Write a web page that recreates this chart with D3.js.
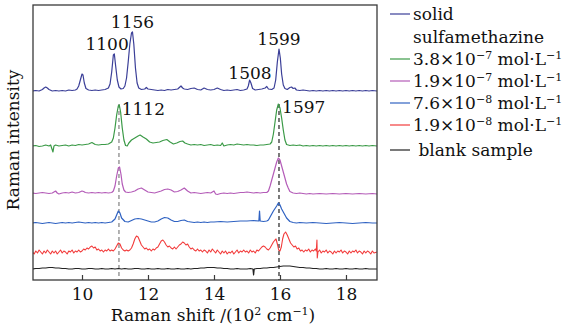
<!DOCTYPE html>
<html><head><meta charset="utf-8">
<script src="https://cdn.jsdelivr.net/npm/d3@7"></script>
<style>
html,body{margin:0;padding:0;background:#fff;}
svg text{font-family:"DejaVu Serif",serif;fill:#111;}
</style></head>
<body><svg id="chart" width="574" height="328"></svg>
<script>
// ---------- data (Raman shift in 10^2 cm^-1, stacked intensity a.u.) ----------
const xTicks = [10, 12, 14, 16, 18];
const seriesNames = ["solid", "c38e7", "c19e7", "c76e8", "c19e8", "blank"];
const seriesColors = ["#3b3f98", "#3b9a47", "#b45cb8", "#2f62c2", "#f23b3b", "#222222"];

const solid = [[8.5,189],[8.6,189.5],[8.7,189],[8.8,190.5],[8.85,192],[8.9,193],[8.95,192],[9.0,190.5],[9.1,189],[9.2,189.5],[9.3,189],[9.4,189.5],[9.5,189],[9.6,190],[9.7,189.5],[9.8,190],[9.85,191],[9.9,194],[9.95,200],[10.0,206],[10.03,205],[10.07,197],[10.12,191.5],[10.2,190],[10.3,189.5],[10.4,190],[10.5,189.5],[10.6,190],[10.7,190.5],[10.8,192],[10.85,196],[10.9,208],[10.95,225],[10.98,226],[11.02,214],[11.07,200],[11.12,193],[11.18,191],[11.25,191.5],[11.3,194],[11.35,202],[11.4,218],[11.45,236],[11.5,247],[11.53,248],[11.57,236],[11.62,212],[11.67,197],[11.72,192],[11.8,190.5],[11.9,191],[11.95,192.5],[12.0,191],[12.1,190.5],[12.2,190],[12.3,189.5],[12.4,190],[12.5,189.5],[12.6,190.5],[12.7,190],[12.8,190.5],[12.9,191],[13.0,194],[13.05,192],[13.1,191],[13.2,190.5],[13.3,191.5],[13.4,192],[13.5,190.5],[13.6,190],[13.7,192],[13.8,190.5],[13.9,190],[14.0,190.5],[14.1,192],[14.2,190.5],[14.3,189.5],[14.4,190],[14.5,189.5],[14.6,190],[14.7,190.5],[14.8,189.5],[14.9,190],[15.0,191],[15.04,194],[15.08,200],[15.12,197],[15.17,191.5],[15.25,190],[15.35,190.5],[15.45,191],[15.55,192],[15.6,193.5],[15.65,191],[15.75,190.5],[15.82,192],[15.87,200],[15.92,218],[15.97,231],[16.01,222],[16.05,206],[16.1,195],[16.15,191.5],[16.22,190.5],[16.3,192.5],[16.35,193],[16.4,191.5],[16.45,192],[16.5,190],[16.6,189.5],[16.7,190],[16.8,189.5],[16.9,189],[17.0,189.5],[17.1,189],[17.2,189.5],[17.3,189],[17.4,189.5],[17.5,189],[17.6,189.5],[17.7,189],[17.8,189.5],[17.9,189],[18.0,189.5],[18.1,189],[18.2,189.5],[18.3,189],[18.4,189.5],[18.5,189],[18.6,189.5],[18.7,189],[18.8,189.5],[18.94,189]];

const conc38e7 = [[8.5,134],[8.6,134.5],[8.7,133.5],[8.8,134],[8.9,135],[9.0,134],[9.05,135],[9.1,130],[9.12,128],[9.15,134],[9.2,135],[9.3,134],[9.4,134.5],[9.5,135],[9.6,134],[9.7,135],[9.8,134.5],[9.9,135.5],[10.0,135],[10.1,135.5],[10.2,136],[10.3,137.5],[10.4,135.5],[10.5,135],[10.6,135.5],[10.7,135.5],[10.8,136],[10.9,138],[10.95,142],[11.0,152],[11.05,165],[11.1,174],[11.13,175],[11.17,168],[11.22,152],[11.27,140],[11.32,134.5],[11.37,134],[11.42,137],[11.5,140],[11.6,142],[11.7,144],[11.76,145],[11.85,143],[11.95,141],[12.05,138],[12.15,137],[12.25,137.5],[12.35,138],[12.45,139.5],[12.57,140.5],[12.67,138],[12.77,136],[12.87,137],[12.97,138.5],[13.05,139],[13.12,137],[13.2,136],[13.3,135],[13.4,135.5],[13.5,135],[13.6,135.5],[13.7,134.5],[13.8,135],[13.9,135.5],[14.0,134.5],[14.1,135],[14.2,134.5],[14.25,137],[14.3,134],[14.4,135],[14.5,135.5],[14.6,135],[14.7,136],[14.8,135.5],[14.9,135],[15.0,135.5],[15.1,135],[15.2,135],[15.3,134.5],[15.4,135],[15.5,135],[15.6,135.5],[15.7,136],[15.75,138],[15.8,146],[15.85,158],[15.9,170],[15.95,176],[16.0,172],[16.05,162],[16.1,150],[16.15,140],[16.2,135.5],[16.3,134.5],[16.4,135],[16.5,134.5],[16.6,135],[16.7,134],[16.8,134.5],[16.9,134],[17.0,134.5],[17.1,134],[17.2,134.5],[17.3,134],[17.4,134.5],[17.5,134],[17.6,134.5],[17.7,134],[17.8,134.5],[17.9,134],[18.0,134.5],[18.1,134],[18.2,134.5],[18.3,134],[18.4,134.5],[18.5,134],[18.6,134.5],[18.7,134],[18.8,134.5],[18.94,134]];

const conc19e7 = [[8.5,87],[8.6,86.5],[8.7,87],[8.8,87.5],[8.9,87],[9.0,86.5],[9.1,87],[9.2,89],[9.25,87],[9.3,86],[9.4,87],[9.5,87.5],[9.6,87],[9.7,88],[9.8,87],[9.9,87.5],[10.0,89],[10.05,88.5],[10.1,87.5],[10.2,87],[10.3,87.5],[10.4,87],[10.5,87.5],[10.6,87],[10.7,87.5],[10.8,87],[10.9,87.5],[10.95,89],[11.0,94],[11.05,104],[11.1,112],[11.14,113],[11.18,106],[11.22,96],[11.27,90],[11.32,88],[11.4,87.5],[11.5,88],[11.6,89],[11.7,91],[11.8,92],[11.9,90],[12.0,88],[12.1,87.5],[12.2,87],[12.3,88],[12.4,89],[12.5,90.5],[12.6,91],[12.7,90],[12.8,88],[12.9,88.5],[13.0,90],[13.1,92],[13.2,89],[13.3,87],[13.4,87.5],[13.5,87],[13.6,86.5],[13.7,87],[13.8,87.5],[13.9,87],[14.0,89],[14.05,86],[14.1,85.5],[14.2,86.5],[14.3,87],[14.4,86.5],[14.5,87],[14.6,86.5],[14.7,87],[14.8,87.5],[14.9,87.5],[15.0,88],[15.1,87.5],[15.2,87],[15.3,87.5],[15.4,87],[15.5,87.5],[15.6,87.5],[15.65,89],[15.7,94],[15.75,100],[15.8,106],[15.85,112],[15.9,118],[15.95,122],[16.0,120],[16.05,114],[16.1,108],[16.15,102],[16.2,96],[16.25,92],[16.3,88.5],[16.4,87],[16.5,86.5],[16.6,87],[16.7,86.5],[16.8,86],[16.9,86.5],[17.0,86],[17.2,86.5],[17.4,86],[17.6,86.5],[17.8,86],[18.0,86.5],[18.2,86],[18.4,86.5],[18.6,86],[18.8,86.5],[18.94,86]];

const conc76e8 = [[8.5,57],[8.6,57.5],[8.7,57],[8.8,56.5],[8.9,57],[9.0,57.5],[9.1,57],[9.2,56.5],[9.3,57],[9.4,57.5],[9.5,57],[9.6,57.5],[9.7,57],[9.8,57.5],[9.9,58],[10.0,57.5],[10.1,57],[10.2,57.5],[10.3,57],[10.4,57.5],[10.5,57],[10.6,57.5],[10.7,57],[10.8,57.5],[10.9,58],[11.0,61],[11.05,65],[11.1,69],[11.15,67],[11.2,62],[11.3,58.5],[11.4,58],[11.5,59.5],[11.6,61],[11.7,61.5],[11.8,61],[11.9,60],[12.0,59],[12.1,58],[12.2,58],[12.3,59],[12.4,61],[12.5,62.5],[12.6,62],[12.7,60],[12.8,58.5],[12.9,58.5],[13.0,59.5],[13.1,60],[13.2,58.5],[13.3,58],[13.4,57.5],[13.5,58],[13.6,57.5],[13.7,58],[13.8,57.5],[13.9,58],[14.0,58],[14.2,58.5],[14.4,58],[14.6,58.5],[14.8,59],[15.0,59],[15.2,59.5],[15.36,59],[15.38,69],[15.40,59],[15.5,58.5],[15.6,59],[15.65,60],[15.7,63],[15.8,69],[15.9,74],[15.95,77],[16.0,75],[16.05,71],[16.1,68],[16.15,65],[16.2,62],[16.3,58.5],[16.4,57.5],[16.5,57],[16.6,57.5],[16.8,57],[17.0,57.5],[17.2,57],[17.4,56.5],[17.6,57],[17.8,57.5],[18.0,57],[18.2,56.5],[18.4,57],[18.6,57.5],[18.8,57],[18.94,57]];

const conc19e8 = [[8.50,28],[8.55,26],[8.60,29],[8.65,27],[8.70,30],[8.75,28],[8.80,26],[8.85,29],[8.90,27],[8.95,30],[9.00,28],[9.05,26],[9.10,29],[9.15,27],[9.20,29],[9.25,26],[9.30,28],[9.35,30],[9.40,27],[9.45,29],[9.50,28],[9.55,26],[9.60,29],[9.65,28],[9.70,30],[9.75,27],[9.80,29],[9.85,28],[9.90,30],[9.95,28],[10.00,29],[10.05,31],[10.10,30],[10.15,32],[10.20,31],[10.25,33],[10.30,34],[10.35,32],[10.40,33],[10.45,30],[10.50,31],[10.55,29],[10.60,30],[10.65,28],[10.70,30],[10.75,29],[10.80,31],[10.85,29],[10.90,30],[10.95,29],[11.00,31],[11.05,34],[11.10,37],[11.15,36],[11.20,32],[11.25,30],[11.30,29],[11.35,30],[11.40,29],[11.45,30],[11.50,32],[11.55,36],[11.60,41],[11.65,44],[11.70,43],[11.75,39],[11.80,35],[11.85,33],[11.90,31],[11.95,32],[12.00,30],[12.05,31],[12.10,29],[12.15,31],[12.20,30],[12.25,32],[12.30,33],[12.35,36],[12.40,39],[12.45,40],[12.50,38],[12.55,35],[12.60,33],[12.65,34],[12.70,32],[12.75,31],[12.80,33],[12.85,31],[12.90,33],[12.95,35],[13.00,36],[13.05,38],[13.10,37],[13.15,35],[13.20,36],[13.25,33],[13.30,31],[13.35,32],[13.40,30],[13.45,29],[13.50,31],[13.55,29],[13.60,30],[13.65,28],[13.70,30],[13.75,29],[13.80,27],[13.85,30],[13.90,28],[13.95,31],[14.00,29],[14.05,27],[14.10,30],[14.15,28],[14.20,26],[14.25,29],[14.30,27],[14.35,29],[14.40,26],[14.45,28],[14.50,27],[14.55,29],[14.60,26],[14.65,28],[14.70,30],[14.75,27],[14.80,29],[14.85,28],[14.90,30],[14.95,28],[15.00,29],[15.05,27],[15.10,30],[15.15,28],[15.20,29],[15.25,27],[15.30,30],[15.35,29],[15.40,31],[15.45,33],[15.50,34],[15.55,33],[15.60,31],[15.65,30],[15.70,32],[15.75,35],[15.80,38],[15.85,40],[15.88,41],[15.92,36],[15.96,30],[16.00,29],[16.04,33],[16.08,41],[16.12,46],[16.17,48],[16.22,45],[16.27,41],[16.32,37],[16.37,35],[16.42,33],[16.47,34],[16.52,31],[16.57,32],[16.62,29],[16.67,30],[16.72,28],[16.77,30],[16.82,29],[16.87,31],[16.92,28],[16.97,30],[17.02,29],[17.07,31],[17.10,29],[17.12,40],[17.13,22],[17.15,28],[17.20,30],[17.25,27],[17.30,29],[17.35,28],[17.40,30],[17.45,27],[17.50,29],[17.55,28],[17.60,26],[17.65,29],[17.70,27],[17.75,29],[17.80,28],[17.85,30],[17.90,27],[17.95,29],[18.00,28],[18.05,26],[18.10,29],[18.15,27],[18.20,29],[18.25,28],[18.30,30],[18.35,27],[18.40,29],[18.45,28],[18.50,26],[18.55,29],[18.60,27],[18.65,29],[18.70,28],[18.75,26],[18.80,29],[18.85,27],[18.94,28]];

const blank = [[8.5,11],[8.6,11.5],[8.7,11.5],[8.8,12],[8.9,12],[9.0,12.5],[9.1,12.5],[9.2,12],[9.3,12],[9.4,11.5],[9.5,11.5],[9.6,11],[9.7,11],[9.8,11.5],[9.9,11.5],[10.0,11],[10.1,11],[10.2,11.5],[10.3,11.5],[10.4,11],[10.5,11],[10.6,11.5],[10.7,11],[10.8,11],[10.9,11.5],[11.0,11],[11.1,11.5],[11.2,11],[11.3,11.5],[11.4,11],[11.5,11],[11.6,11.5],[11.7,11.5],[11.8,11],[11.9,11],[12.0,11.5],[12.1,11],[12.2,11],[12.3,11.5],[12.4,11],[12.5,11],[12.6,11.5],[12.7,11],[12.8,11],[12.9,11.5],[13.0,11],[13.1,11],[13.2,11.5],[13.3,11],[13.4,11.5],[13.5,11.5],[13.6,12],[13.7,12],[13.8,12.5],[13.9,12.5],[14.0,12.5],[14.1,12],[14.2,12],[14.3,11.5],[14.4,11.5],[14.5,11],[14.6,11],[14.7,11.5],[14.8,11],[14.9,11],[15.0,11],[15.1,11.5],[15.18,11],[15.2,5],[15.22,11],[15.3,11.5],[15.4,11.5],[15.5,12],[15.6,12],[15.7,12.5],[15.8,12.5],[15.9,13],[16.0,13.5],[16.1,14],[16.2,14],[16.3,14],[16.4,13.5],[16.5,13],[16.6,12.5],[16.7,12.5],[16.8,12],[16.9,12],[17.0,11.5],[17.1,11.5],[17.2,11],[17.3,11],[17.4,11.5],[17.5,11],[17.6,11],[17.7,11.5],[17.8,11],[17.9,11],[18.0,11.5],[18.1,11],[18.2,11],[18.3,11.5],[18.4,11],[18.5,11],[18.6,11.5],[18.7,11],[18.8,11],[18.94,11]];

const seriesData = [solid, conc38e7, conc19e7, conc76e8, conc19e8, blank];
const legendLabels = ["solid|sulfamethazine", "3.8×10^−7 mol·L^−1", "1.9×10^−7 mol·L^−1", "7.6×10^−8 mol·L^−1", "1.9×10^−8 mol·L^−1", " blank sample"];

const peakLabels = ["1100", "1156", "1508", "1599", "1112", "1597"];
const peakShifts = [10.76, 11.53, 15.09, 15.97, 11.86, 16.72];
const peakHeights = [226, 248, 197, 231, 161, 163];
const markerShifts = [11.12, 15.97];
const markerTops = [176, 176];
const markerColors = ["#8a8a8a", "#333333"];

// ---------- layout ----------
const m = {left: 33, top: 5, right: 377, bottom: 280};
const svg = d3.select("#chart");
const x = d3.scaleLinear().domain([8.515, 18.94]).range([m.left, m.right]);
const y = d3.scaleLinear().domain([0, 275]).range([m.bottom, m.top]);

svg.append("defs").append("clipPath").attr("id", "clip")
  .append("rect").attr("x", m.left).attr("y", m.top)
  .attr("width", m.right - m.left).attr("height", m.bottom - m.top);

const plot = svg.append("g").attr("clip-path", "url(#clip)");

// dashed marker lines
plot.selectAll("line.marker").data(markerShifts).enter().append("line")
  .attr("class", "marker")
  .attr("x1", d => x(d)).attr("x2", d => x(d))
  .attr("y1", (d, i) => y(markerTops[i])).attr("y2", y(0))
  .attr("stroke", (d, i) => markerColors[i]).attr("stroke-width", 1.3)
  .attr("stroke-dasharray", "4,3");

const line = d3.line().x(d => x(d[0])).y(d => y(d[1]));
plot.selectAll("path.spec").data(seriesData).enter().append("path")
  .attr("class", "spec")
  .attr("d", line)
  .attr("fill", "none")
  .attr("stroke", (d, i) => seriesColors[i])
  .attr("stroke-width", (d, i) => i === 4 ? 1.1 : 1.2)
  .attr("stroke-linejoin", "round");

// frame
svg.append("rect").attr("x", m.left).attr("y", m.top)
  .attr("width", m.right - m.left).attr("height", m.bottom - m.top)
  .attr("fill", "none").attr("stroke", "#3a3a3a").attr("stroke-width", 1.3);

// bottom axis
const ax = svg.append("g").attr("transform", `translate(0,${m.bottom})`)
  .call(d3.axisBottom(x).tickValues(xTicks).tickFormat(d3.format("d")).tickSize(-5).tickPadding(8));
ax.select(".domain").remove();
ax.selectAll(".tick line").attr("stroke", "#3a3a3a").attr("stroke-width", 1.2);
ax.selectAll(".tick text").attr("font-size", 17).attr("font-family", "DejaVu Serif").attr("fill", "#111");

// axis titles
const xt = svg.append("text").attr("x", 213).attr("y", 321).attr("text-anchor", "middle").attr("font-size", 17);
xt.append("tspan").text("Raman shift /(10");
xt.append("tspan").attr("font-size", 11).attr("dy", -6).text("2");
xt.append("tspan").attr("dy", 6).text(" cm");
xt.append("tspan").attr("font-size", 11).attr("dy", -6).text("−1");
xt.append("tspan").attr("dy", 6).text(")");

svg.append("text").attr("transform", "translate(19,140) rotate(-90)")
  .attr("text-anchor", "middle").attr("font-size", 17).text("Raman intensity");

// peak labels
svg.selectAll("text.peak").data(peakLabels).enter().append("text")
  .attr("class", "peak")
  .attr("x", (d, i) => x(peakShifts[i])).attr("y", (d, i) => y(peakHeights[i]) - 4)
  .attr("text-anchor", "middle")
  .attr("font-size", 17).text(d => d);

// legend
const rowY = [14, 37, 59, 81, 103, 125, 150];
const lg = svg.append("g");
let row = 0;
legendLabels.forEach((lab, i) => {
  const yy = rowY[row];
  lg.append("line").attr("x1", 390).attr("x2", 410).attr("y1", yy).attr("y2", yy)
    .attr("stroke", seriesColors[i]).attr("stroke-width", 1.2);
  const parts = lab.split("|");
  parts.forEach((p) => {
    const t = lg.append("text").attr("x", 413).attr("y", rowY[row] + 6).attr("font-size", 17)
      .attr("xml:space", "preserve").style("white-space", "pre");
    const segs = p.split(/(\^[^ ]+)/).filter(s => s.length);
    let sup = false;
    segs.forEach(s => {
      if (s[0] === "^") {
        t.append("tspan").attr("font-size", 11).attr("dy", -6).text(s.slice(1));
        sup = true;
      } else {
        t.append("tspan").attr("dy", sup ? 6 : 0).text(s);
        sup = false;
      }
    });
    row++;
  });
});
</script></body></html>
